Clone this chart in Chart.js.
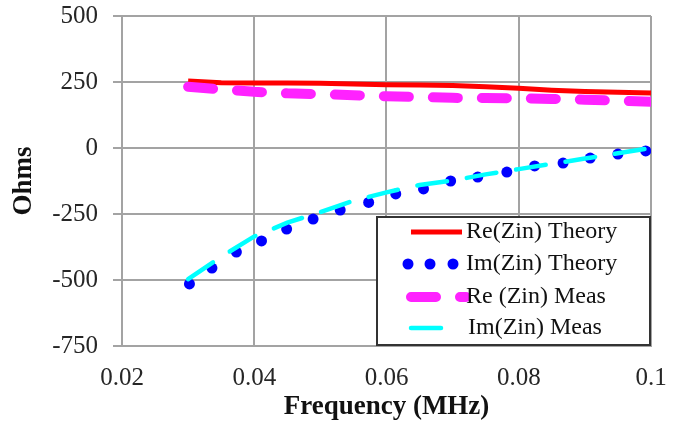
<!DOCTYPE html>
<html>
<head>
    <script src="https://cdn.jsdelivr.net/npm/chart.js@4.4.1/dist/chart.umd.min.js"></script>
    <title>Zin vs Frequency</title>
    <style>
        body { margin: 0; background: #fff; }
    </style>
</head>
<body>
<canvas id="myChart" width="694" height="426"></canvas>

<script>
    // frequency samples (MHz)
    var freqs = [0.03, 0.035, 0.04, 0.045, 0.05, 0.055, 0.06, 0.065, 0.07, 0.075, 0.08, 0.085, 0.09, 0.095, 0.1];
    var reTheory = [254, 247, 246, 246, 245, 242, 240, 239, 237, 232, 226, 219, 214, 211, 208];
    var reMeas = [232, 222, 213, 207, 204, 200, 196, 193, 190, 189, 188, 186, 183, 179, 175];
    var imMeas = [-497, -412, -335, -283, -243, -200, -168, -140, -123, -100, -80, -60, -40, -20, 0];

    // Im theory is drawn as round dots, read one by one
    var imTheoryFreqs = [0.0302, 0.0336, 0.0373, 0.0411, 0.0449, 0.0489, 0.053, 0.0573, 0.0614,
        0.0656, 0.0697, 0.0738, 0.0782, 0.0824, 0.0867, 0.0908, 0.095, 0.0992];
    var imTheory = [-515, -455, -394, -352, -307, -269, -235, -206, -174,
        -155, -125, -110, -91, -68, -57, -38, -23, -11];

    var seriesNames = ['Re(Zin) Theory', 'Im(Zin) Theory', 'Re (Zin) Meas', 'Im(Zin) Meas'];
    var xTickLabels = ['0.02', '0.04', '0.06', '0.08', '0.1'];
    var yTickLabels = ['-750', '-500', '-250', '0', '250', '500'];

    function pairs(xs, ys) {
        var out = [];
        for (var i = 0; i < xs.length; i++) {
            out.push({x: xs[i], y: ys[i]});
        }
        return out;
    }

    // box legend drawn by hand, Excel style
    var boxLegend = {
        id: 'boxLegend',
        afterDraw: function(chart) {
            var ctx = chart.ctx;
            var ds = chart.data.datasets;
            var left = 377, top = 217, w = 273, h = 128;
            ctx.save();
            ctx.fillStyle = '#fff';
            ctx.fillRect(left, top, w, h);
            ctx.strokeStyle = '#333';
            ctx.lineWidth = 2;
            ctx.strokeRect(left, top, w, h);

            var rows = [232, 264, 297, 328];
            for (var i = 0; i < rows.length; i++) {
                var y = rows[i];
                var d = ds[i];
                ctx.save();
                if (d.showLine === false) {
                    ctx.fillStyle = d.pointBackgroundColor;
                    [408, 430, 453].forEach(function(px) {
                        ctx.beginPath();
                        ctx.arc(px, y, d.pointRadius, 0, Math.PI * 2);
                        ctx.fill();
                    });
                } else {
                    ctx.strokeStyle = d.borderColor;
                    ctx.lineWidth = d.borderWidth;
                    ctx.lineCap = d.borderCapStyle || 'butt';
                    ctx.setLineDash(d.borderDash || []);
                    ctx.beginPath();
                    ctx.moveTo(411, y);
                    ctx.lineTo(i == 2 ? 466 : (i == 3 ? 448 : 462), y);
                    ctx.stroke();
                }
                ctx.restore();
                ctx.fillStyle = '#111';
                ctx.font = '24px "Liberation Serif"';
                ctx.textBaseline = 'middle';
                ctx.fillText(seriesNames[i], i == 3 ? 468 : 466, y);
            }
            ctx.restore();
        }
    };

    var gridColor = '#a3a3a3';
    var ctx = document.getElementById('myChart').getContext('2d');
    var myChart = new Chart(ctx, {
        type: 'scatter',
        data: {
            datasets: [
                {
                    label: seriesNames[0],
                    data: pairs(freqs, reTheory),
                    showLine: true,
                    borderColor: '#ff0000',
                    borderWidth: 5,
                    pointRadius: 0,
                    borderCapStyle: 'butt',
                    order: 4
                },
                {
                    label: seriesNames[1],
                    data: pairs(imTheoryFreqs, imTheory),
                    showLine: false,
                    pointRadius: 5.5,
                    pointBackgroundColor: '#0000ff',
                    pointBorderWidth: 0,
                    borderColor: '#0000ff',
                    order: 3
                },
                {
                    label: seriesNames[2],
                    data: pairs(freqs, reMeas),
                    showLine: true,
                    borderColor: '#ff22ff',
                    borderWidth: 10,
                    borderDash: [25, 24],
                    borderCapStyle: 'round',
                    pointRadius: 0,
                    order: 2
                },
                {
                    label: seriesNames[3],
                    data: pairs(freqs, imMeas),
                    showLine: true,
                    borderColor: '#00ffff',
                    borderWidth: 4.5,
                    borderDash: [30, 20],
                    borderCapStyle: 'round',
                    pointRadius: 0,
                    order: 1
                },
            ]
        },
        options: {
            responsive: false,
            animation: false,
            layout: {
                padding: {left: 0, right: 43, top: 16, bottom: 0}
            },
            scales: {
                x: {
                    type: 'linear',
                    min: 0.02,
                    max: 0.1,
                    ticks: {
                        stepSize: 0.02,
                        color: '#262626',
                        font: {family: 'Liberation Serif', size: 25},
                        padding: 17,
                        maxRotation: 0,
                        callback: function(v, i) { return xTickLabels[i]; }
                    },
                    grid: {color: gridColor, lineWidth: 2, drawTicks: false},
                    border: {color: gridColor, width: 2},
                    title: {
                        display: true,
                        text: 'Frequency (MHz)',
                        color: '#111',
                        font: {family: 'Liberation Serif', size: 27, weight: 'bold'},
                        padding: {top: 0, bottom: 3}
                    },
                    afterFit: function(scale) {
                        scale.height = 80;
                        scale.paddingLeft = 0;
                        scale.paddingRight = 0;
                    }
                },
                y: {
                    min: -750,
                    max: 500,
                    ticks: {
                        stepSize: 250,
                        color: '#262626',
                        font: {family: 'Liberation Serif', size: 25},
                        padding: 15,
                        callback: function(v, i) { return yTickLabels[i]; }
                    },
                    grid: {color: gridColor, lineWidth: 2, tickLength: 9},
                    border: {color: gridColor, width: 2},
                    title: {
                        display: true,
                        text: 'Ohms',
                        color: '#111',
                        font: {family: 'Liberation Serif', size: 27, weight: 'bold'},
                        padding: {top: 8, bottom: 0}
                    },
                    afterFit: function(scale) {
                        scale.width = 122;
                        scale.paddingTop = 0;
                        scale.paddingBottom = 0;
                    }
                }
            },
            plugins: {
                legend: {display: false},
                tooltip: {enabled: false}
            }
        },
        plugins: [boxLegend]
    });
</script>

</body>
</html>
